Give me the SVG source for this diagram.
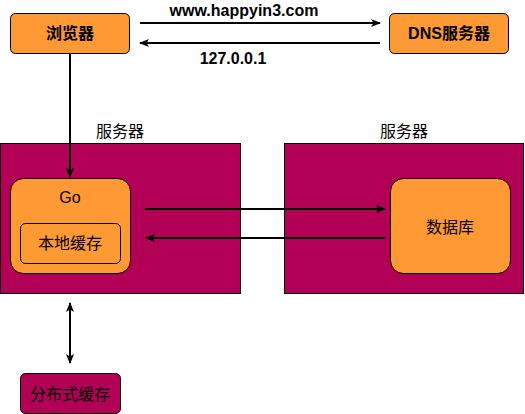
<svg xmlns="http://www.w3.org/2000/svg" width="525" height="414" viewBox="0 0 525 414">
<style>
text{font-family:"Liberation Sans","Noto Sans CJK SC",sans-serif;font-size:16px;fill:#000;text-anchor:middle}
.b{font-weight:bold}
.or{fill:#FF9933;stroke:#000;stroke-width:1}
.mg{fill:#B20056;stroke:#000;stroke-width:1}
.ln{stroke:#000;stroke-width:2;fill:none}
</style>
<defs>
<marker id="ah" viewBox="0 0 10 8" refX="9" refY="4" markerWidth="10" markerHeight="8" markerUnits="userSpaceOnUse" orient="auto-start-reverse">
<path d="M0,0 L10,4 L0,8 L2.5,4 Z" fill="#000"/>
</marker>
</defs>
<g id="server-left">
<rect class="mg" x="0.5" y="143.5" width="240" height="150"/>
<text x="120" y="137">服务器</text>
</g>
<g id="server-right">
<rect class="mg" x="284.5" y="143.5" width="239" height="150"/>
<text x="404" y="137">服务器</text>
</g>
<g id="browser">
<rect class="or" x="10.5" y="13.5" width="119" height="40" rx="5"/>
<text class="b" x="70" y="39">浏览器</text>
</g>
<g id="dns">
<rect class="or" x="389.5" y="13.5" width="119" height="40" rx="5"/>
<text class="b" x="449" y="39">DNS服务器</text>
</g>
<g id="go">
<rect class="or" x="10.5" y="178.5" width="120" height="95" rx="13"/>
<text x="70" y="203">Go</text>
</g>
<g id="local-cache">
<rect class="or" x="20.5" y="223.5" width="100" height="40" rx="5"/>
<text x="70" y="249">本地缓存</text>
</g>
<g id="database">
<rect class="or" x="390.5" y="178.5" width="120" height="95" rx="13"/>
<text x="450" y="233">数据库</text>
</g>
<g id="dist-cache">
<rect class="mg" x="20.5" y="373.5" width="100" height="40" rx="5"/>
<text x="70" y="400">分布式缓存</text>
</g>
<g id="connectors">
<line class="ln" x1="140" y1="23" x2="380" y2="23" marker-end="url(#ah)"/>
<text class="b" x="244" y="16">www.happyin3.com</text>
<line class="ln" x1="380" y1="43" x2="140" y2="43" marker-end="url(#ah)"/>
<text class="b" x="233" y="64">127.0.0.1</text>
<line class="ln" x1="70" y1="53" x2="70" y2="177" marker-end="url(#ah)"/>
<line class="ln" x1="145" y1="209" x2="385" y2="209" marker-end="url(#ah)"/>
<line class="ln" x1="385" y1="238" x2="146" y2="238" marker-end="url(#ah)"/>
<line class="ln" x1="70" y1="303" x2="70" y2="363" marker-start="url(#ah)" marker-end="url(#ah)"/>
</g>
</svg>
